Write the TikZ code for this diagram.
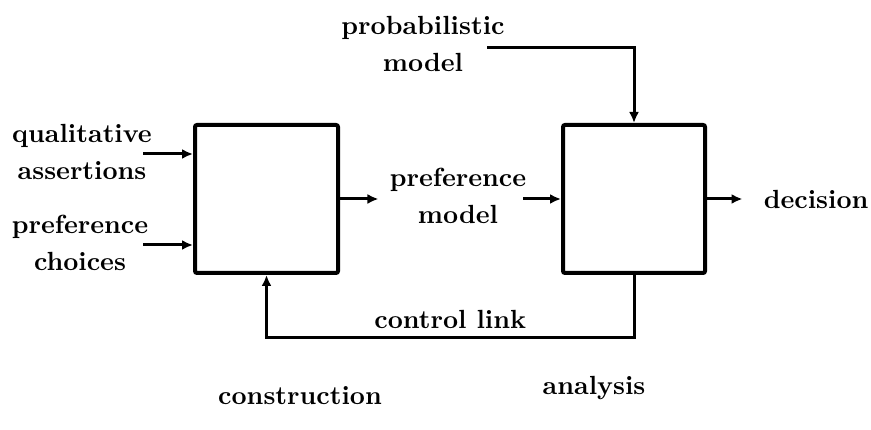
\documentclass[tikz,border=0pt]{standalone}
\usepackage{tikz}
\usetikzlibrary{positioning,arrows.meta,calc}

\tikzset{
  blk/.style={rectangle, draw, line width=1.6pt, rounded corners=0.8pt},
  lbl/.style={align=center, font=\fontsize{10.5}{14.8}\selectfont\bfseries},
  flow/.style={-{Latex[length=4.4pt,width=4pt]}, line width=1.2pt}
}

\begin{document}
\begin{tikzpicture}[x=0.4pt,y=-0.4pt]
  \useasboundingbox (0,0) rectangle (871,430);
  % the two blocks
  \node (cons) [blk, minimum width=57.2pt, minimum height=59.2pt] at (266.5,199) {};
  \node (anl) [blk, minimum width=56.8pt, minimum height=59.2pt] at (634,199) {};
  % labels
  \node (qa) [lbl] at (82,151.5) {qualitative\\assertions};
  \node (pc) [lbl] at (80,242.5) {preference\\choices};
  \node (pm) [lbl] at (423,43.5) {probabilistic\\model};
  \node (pref) [lbl] at (458,195.5) {preference\\model};
  \node (dec) [lbl, anchor=west] at (755,199) {decision};
  \node (con) [lbl] at (300,396) {construction};
  \node (ana) [lbl] at (594,388) {analysis};
  \coordinate (qtail) at (143,154);
  \coordinate (ctail) at (143,245);
  \coordinate (ptail) at (487,48);
  \coordinate (mtail) at (523,199);
  % arrows
  \draw[flow] (qtail) -- (qtail -| cons.west);
  \draw[flow] (ctail) -- (ctail -| cons.west);
  \draw[flow, shorten >=1pt] (cons.east) -- (cons.east -| pref.west);
  \draw[flow] (mtail) -- (anl.west);
  \draw[flow] (ptail) -| (anl.north);
  \draw[flow, shorten >=5pt] (anl.east) -- (dec.west);
  \draw[flow] (anl.south) -- ++(0,63) -| node (ctl) [lbl, pos=0.25, above] {control link} (cons.south);
\end{tikzpicture}
\end{document}
